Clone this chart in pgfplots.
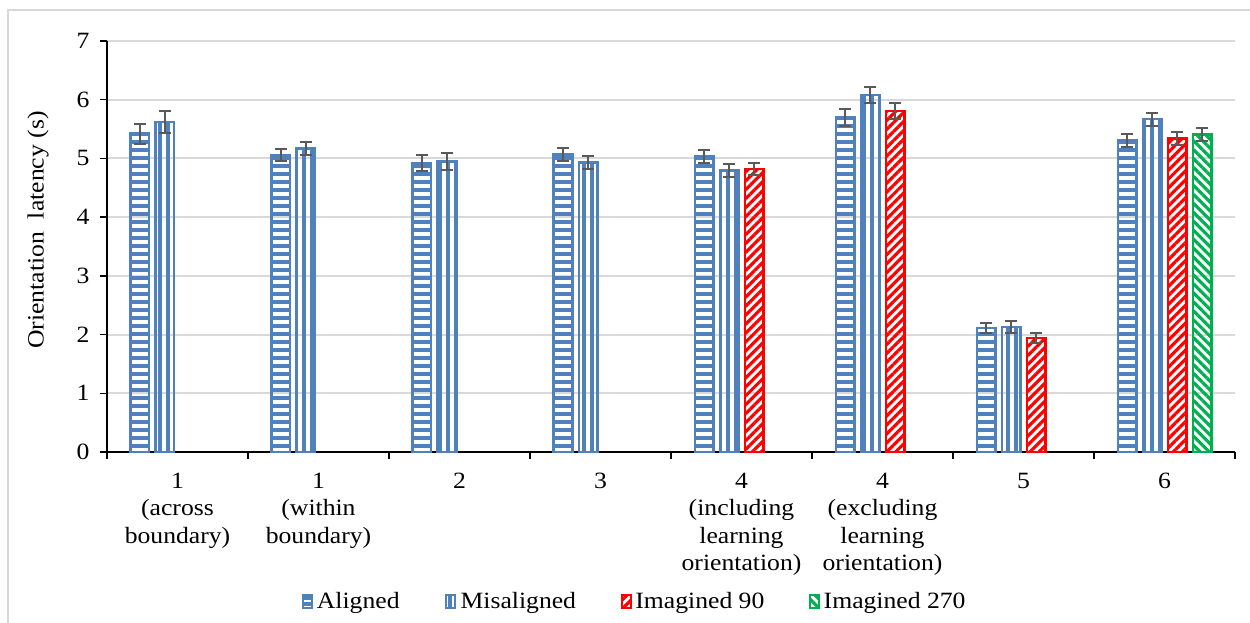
\documentclass[border=0pt]{standalone}
\usepackage{fontspec}
\setmainfont[FakeStretch=1.1]{Liberation Serif}
\usepackage{pgfplots}
\pgfplotsset{compat=1.18}
\usetikzlibrary{patterns.meta}

\definecolor{barblue}{RGB}{79,129,189}
\definecolor{barred}{RGB}{255,0,0}
\definecolor{bargreen}{RGB}{0,176,80}
\definecolor{errgray}{RGB}{89,89,89}
\definecolor{gridgray}{RGB}{217,217,217}

\tikzset{
  alignedbar/.style={draw=barblue, line width=1.6pt,
    pattern={Lines[angle=0,distance=4.8pt,line width=2.4pt]}, pattern color=barblue},
  misalignedbar/.style={draw=barblue, line width=1.6pt,
    pattern={Lines[angle=90,distance=4.8pt,line width=2.4pt]}, pattern color=barblue},
  imagninetybar/.style={draw=barred, line width=1.6pt,
    pattern={Lines[angle=45,distance=3.8pt,line width=1.9pt]}, pattern color=barred},
  imagtwoseventybar/.style={draw=bargreen, line width=1.6pt,
    pattern={Lines[angle=-45,distance=3.8pt,line width=1.9pt]}, pattern color=bargreen},
}

\begin{document}
\begin{tikzpicture}
\useasboundingbox (0,0) rectangle (750pt,373.2pt);
% outer chart frame
\draw[gridgray, line width=1.2pt] (4.8pt,-5pt) -- (4.8pt,367.2pt) -- (760pt,367.2pt);
\begin{axis}[
  at={(64.2pt,102pt)}, anchor=south west,
  scale only axis, width=676.8pt, height=246.6pt,
  xmin=-0.5, xmax=7.5, ymin=0, ymax=7,
  ybar, bar width=11pt,
  axis x line=bottom, axis y line=left,
  axis line style={-, black, line width=0.9pt},
  tick align=outside,
  xtick={0,...,7},
  xticklabels={{1\\(across\\boundary)},{1\\(within\\boundary)},2,3,
    {4\\(including\\learning\\orientation)},{4\\(excluding\\learning\\orientation)},5,6},
  xticklabel style={align=center, anchor=north, yshift=-5pt,
    font=\fontsize{14}{16.5}\selectfont},
  major x tick style={draw=none},
  minor xtick={-0.5,0.5,...,7.5},
  minor x tick style={black, line width=0.9pt},
  minor tick length=4pt,
  ytick={0,...,7},
  yticklabel style={xshift=-3pt},
  major y tick style={black, line width=0.9pt},
  major tick length=4pt,
  ymajorgrids, major grid style={gridgray, line width=1.2pt},
  ylabel={Orientation\ \ latency\ (s)},
  every axis y label/.style={at={(axis description cs:-0.0612,0.54)}, rotate=90, anchor=center},
  /pgf/number format/assume math mode=true,
  font=\fontsize{14}{16.5}\selectfont,
  legend columns=4,
  legend style={at={(axis description cs:0.468,-0.365)}, anchor=center, draw=none,
    font=\fontsize{14}{16}\selectfont,
    /tikz/every even column/.append style={column sep=25pt}},
  error bars/y dir=both, error bars/y explicit,
  error bars/error bar style={errgray, line width=1.2pt},
  error bars/error mark options={rotate=90, mark size=3.6pt, errgray, line width=1.2pt},
]
\addplot[alignedbar, bar shift=-22.5pt,
  legend image code/.code={\draw[alignedbar, line width=1.2pt, pattern={Lines[angle=0,distance=3.6pt,line width=2.2pt]}] (0pt,-3.6pt) rectangle (5.4pt,4.2pt);}]
  coordinates {
  (0,5.42) +- (0,0.17)
  (1,5.06) +- (0,0.10)
  (2,4.92) +- (0,0.14)
  (3,5.07) +- (0,0.11)
  (4,5.03) +- (0,0.11)
  (5,5.70) +- (0,0.14)
  (6,2.11) +- (0,0.09)
  (7,5.31) +- (0,0.11)
};
\addlegendentry{Aligned}
\addplot[misalignedbar, bar shift=-7.5pt,
  legend image code/.code={\draw[misalignedbar, line width=1.2pt, pattern={Lines[angle=90,distance=3.6pt,line width=2.2pt]}] (0pt,-3.6pt) rectangle (5.4pt,4.2pt);}]
  coordinates {
  (0,5.62) +- (0,0.18)
  (1,5.17) +- (0,0.11)
  (2,4.95) +- (0,0.14)
  (3,4.93) +- (0,0.11)
  (4,4.79) +- (0,0.11)
  (5,6.08) +- (0,0.13)
  (6,2.13) +- (0,0.10)
  (7,5.67) +- (0,0.11)
};
\addlegendentry{Misaligned}
\addplot[imagninetybar, bar shift=7.5pt,
  legend image code/.code={\draw[imagninetybar, line width=1.2pt] (0pt,-3.6pt) rectangle (5.4pt,4.2pt);}]
  coordinates {
  (4,4.82) +- (0,0.11)
  (5,5.81) +- (0,0.13)
  (6,1.94) +- (0,0.08)
  (7,5.34) +- (0,0.11)
};
\addlegendentry{Imagined 90}
\addplot[imagtwoseventybar, bar shift=22.5pt,
  legend image code/.code={\draw[imagtwoseventybar, line width=1.2pt] (0pt,-3.6pt) rectangle (5.4pt,4.2pt);}]
  coordinates {
  (7,5.41) +- (0,0.11)
};
\addlegendentry{Imagined 270}
\end{axis}
\end{tikzpicture}
\end{document}
